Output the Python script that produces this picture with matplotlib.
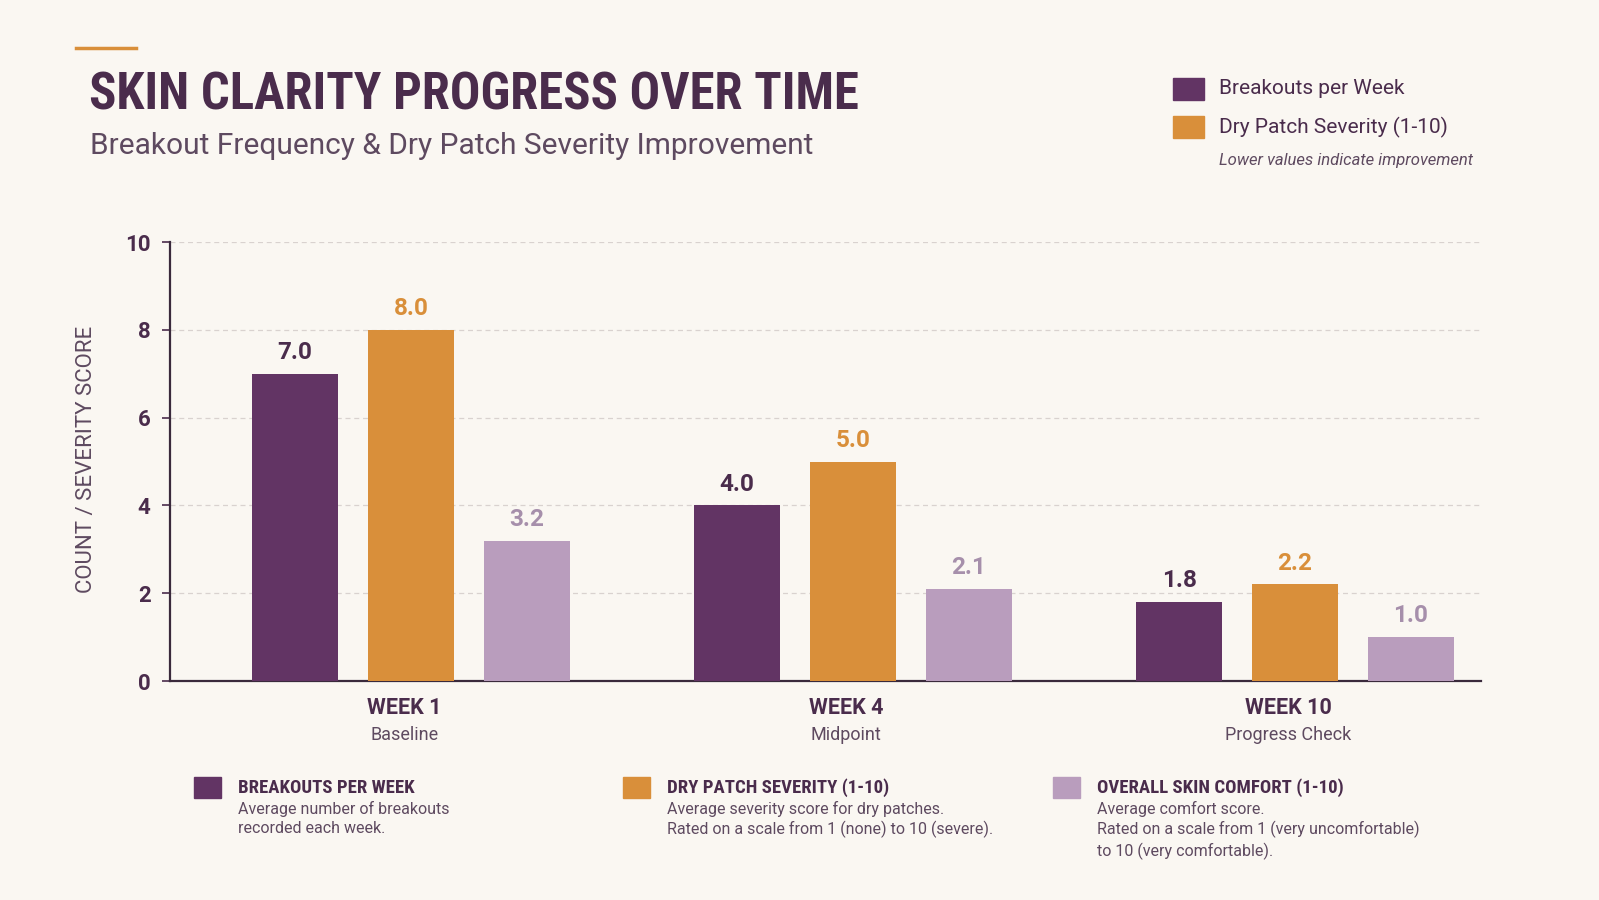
import matplotlib
matplotlib.use("Agg")
import matplotlib.pyplot as plt
from matplotlib import font_manager
import numpy as np

# --- data ---
weeks = ["WEEK 1", "WEEK 4", "WEEK 10"]
phases = ["Baseline", "Midpoint", "Progress Check"]
breakouts = [7.0, 4.0, 1.8]
dry_patch = [8.0, 5.0, 2.2]
comfort = [3.2, 2.1, 1.0]

# --- colours ---
BG = "#FAF7F2"
PURPLE = "#623464"
ORANGE = "#D98F3A"
LILAC = "#B99DBD"
INK = "#4A2C4C"
SOFT = "#5E4A60"

# pick a condensed face if there is one
names = {f.name for f in font_manager.fontManager.ttflist}
cond = None
for cand in ["Roboto Condensed", "Liberation Sans Narrow", "Open Sans Condensed", "DejaVu Sans Condensed"]:
    if cand in names:
        cond = cand
        break
if cond is None:
    cond = "Roboto"
plain = "Roboto" if "Roboto" in names else "DejaVu Sans"
COND = [cond, plain]
PLAIN = [plain, "DejaVu Sans"]

W, H = 1599, 900
fig = plt.figure(figsize=(W / 100, H / 100), dpi=100, facecolor=BG)


def fx(px):
    return px / W


def fy(py):
    return 1 - py / H


ax = fig.add_axes([fx(170), fy(681), fx(1481) - fx(170), fy(242) - fy(681)])
ax.set_facecolor(BG)

x = np.arange(len(weeks))
bw = 0.194
off = 0.262
series = [(breakouts, PURPLE, INK), (dry_patch, ORANGE, ORANGE), (comfort, LILAC, "#A68FAB")]
for i, (vals, col, lab) in enumerate(series):
    pos = x + (i - 1) * off
    ax.bar(pos, vals, width=bw, color=col, zorder=3)
    for p, v in zip(pos, vals):
        ax.annotate(f"{v:.1f}", (p, v), xytext=(0, 7), textcoords="offset points",
                    ha="center", va="bottom", fontsize=17.5, fontweight="bold",
                    color=lab, family=PLAIN)

ax.set_xlim(-0.545, 2.421)
ax.set_ylim(0, 10)
ax.set_yticks([0, 2, 4, 6, 8, 10])
ax.set_yticklabels(["0", "2", "4", "6", "8", "10"], fontsize=16, fontweight="bold",
                   color=INK, family=PLAIN)
ax.tick_params(axis="y", length=6, width=1.2, color=INK, pad=8)
ax.set_xticks([])
for y in [2, 4, 6, 8, 10]:
    ax.axhline(y, color="#D9D2CF", lw=0.9, ls=(0, (4, 3)), zorder=1)
for s in ["top", "right"]:
    ax.spines[s].set_visible(False)
for s in ["left", "bottom"]:
    ax.spines[s].set_color("#3A2A3C")
    ax.spines[s].set_linewidth(1.6)

# x category labels
for xi, wk, ph in zip(x, weeks, phases):
    ax.text(xi - 0.015, -27 / 43.9, wk, ha="center", va="center", fontsize=15.5, fontweight="bold",
            color=INK, family=PLAIN)
    ax.text(xi - 0.015, -54 / 43.9, ph, ha="center", va="center", fontsize=13,
            color=SOFT, family=PLAIN)

fig.text(fx(87), fy(459), "COUNT / SEVERITY SCORE", rotation=90, ha="center", va="center",
         fontsize=16, color=SOFT, family=PLAIN)

# header
fig.add_artist(plt.Line2D([fx(76), fx(136)], [fy(48), fy(48)], color=ORANGE, lw=2.5))
fig.text(fx(89), fy(96), "SKIN CLARITY PROGRESS OVER TIME", ha="left", va="center",
         fontsize=36.5, fontweight="bold", color=INK, family=COND)
fig.text(fx(90), fy(146), "Breakout Frequency & Dry Patch Severity Improvement", ha="left",
         va="center", fontsize=21.5, color=SOFT, family=PLAIN)

# top-right legend
for (lbl, col), yc in zip([("Breakouts per Week", PURPLE), ("Dry Patch Severity (1-10)", ORANGE)], [89, 127]):
    fig.add_artist(plt.Rectangle((fx(1173), fy(yc + 11)), fx(31), fy(0) - fy(22),
                                 color=col, transform=fig.transFigure))
    fig.text(fx(1219), fy(yc), lbl, ha="left", va="center", fontsize=15,
             color=INK, family=PLAIN)
fig.text(fx(1219), fy(161), "Lower values indicate improvement", ha="left", va="center",
         fontsize=12, style="italic", color=SOFT, family=PLAIN)

# bottom notes
notes = [
    (194, PURPLE, "BREAKOUTS PER WEEK", "Average number of breakouts\nrecorded each week."),
    (623, ORANGE, "DRY PATCH SEVERITY (1-10)",
     "Average severity score for dry patches.\nRated on a scale from 1 (none) to 10 (severe)."),
    (1053, LILAC, "OVERALL SKIN COMFORT (1-10)",
     "Average comfort score.\nRated on a scale from 1 (very uncomfortable)\nto 10 (very comfortable)."),
]
for xs, col, head, desc in notes:
    fig.add_artist(plt.Rectangle((fx(xs), fy(798)), fx(27), fy(0) - fy(21),
                                 color=col, transform=fig.transFigure))
    fig.text(fx(xs + 44), fy(788), head, ha="left", va="center", fontsize=13.5,
             fontweight="bold", color=INK, family=COND)
    fig.text(fx(xs + 44), fy(801), desc, ha="left", va="top", fontsize=11.5,
             color=SOFT, family=PLAIN, linespacing=1.3)

fig.savefig("out.png", dpi=100, facecolor=BG)
